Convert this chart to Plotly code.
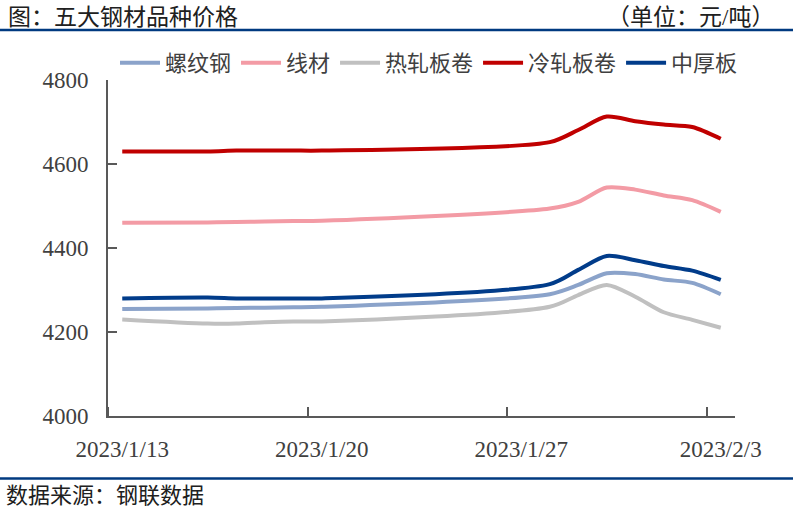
import plotly.graph_objects as go

dates = ["2023-01-13", "2023-01-16", "2023-01-17", "2023-01-18", "2023-01-19", "2023-01-20",
         "2023-01-28", "2023-01-29", "2023-01-30", "2023-01-31", "2023-02-01", "2023-02-02", "2023-02-03"]
rebar = [4255, 4256, 4257, 4258, 4259, 4260, 4290, 4312, 4340, 4338, 4325, 4317, 4290]        # 螺纹钢
wire = [4460, 4461, 4462, 4463, 4464, 4465, 4494, 4510, 4544, 4539, 4525, 4514, 4486]         # 线材
hot_coil = [4230, 4220, 4220, 4223, 4225, 4225, 4260, 4288, 4312, 4284, 4247, 4229, 4210]     # 热轧板卷
cold_coil = [4630, 4630, 4632, 4632, 4632, 4632, 4652, 4681, 4713, 4702, 4694, 4688, 4660]    # 冷轧板卷
plate = [4280, 4282, 4280, 4280, 4280, 4280, 4314, 4348, 4381, 4371, 4357, 4346, 4324]        # 中厚板

tick_dates = ["2023-01-13", "2023-01-20", "2023-01-27", "2023-02-03"]
tick_text = ["2023/1/13", "2023/1/20", "2023/1/27", "2023/2/3"]

series = [
    ("螺纹钢", rebar, "#8BA3CA"),
    ("线材", wire, "#F39BA5"),
    ("热轧板卷", hot_coil, "#C0C0C0"),
    ("冷轧板卷", cold_coil, "#C00000"),
    ("中厚板", plate, "#013C8A"),
]

# Excel-style date axis: each day's point sits in the middle of its day slot
x_mid = [d + " 12:00" for d in dates]
label_pos = [d + " 12:00" for d in tick_dates]

FONT = "Liberation Serif, Noto Sans CJK SC, serif"
TXT = "#404040"

fig = go.Figure()
for name, vals, col in series:
    fig.add_trace(go.Scatter(x=x_mid, y=vals, name=name, mode="lines",
                             line=dict(color=col, width=4, shape="spline", smoothing=0.8)))

W, H = 793, 510
L, R, T, B = 108, 58, 80, 93.5
pw, ph = W - L - R, H - T - B

def px(x):
    return (x - L) / pw

def py(y):
    return (H - B - y) / ph

fig.update_layout(
    width=W, height=H,
    margin=dict(l=L, r=R, t=T, b=B, pad=0),
    paper_bgcolor="white", plot_bgcolor="white",
    font=dict(family=FONT, size=21, color=TXT),
    showlegend=True,
    legend=dict(orientation="h", x=px(115), y=py(63), xanchor="left", yanchor="middle",
                font=dict(size=22, color=TXT), bgcolor="rgba(0,0,0,0)", itemwidth=40,
                tracegroupgap=0),
    xaxis=dict(type="date", range=["2023-01-13", "2023-02-04"], tickvals=label_pos, ticktext=tick_text,
               showgrid=False, zeroline=False, showline=True, linecolor="#595959", linewidth=2,
               ticks="", tickfont=dict(size=23, color=TXT), ticklabelstandoff=11,
               minor=dict(tickvals=tick_dates, ticks="inside", ticklen=9, tickwidth=2,
                          tickcolor="#595959", showgrid=False)),
    yaxis=dict(range=[4000, 4800], tickvals=[4000, 4200, 4400, 4600, 4800],
               showgrid=False, zeroline=False, showline=True, linecolor="#595959", linewidth=2,
               ticks="inside", ticklen=9, tickwidth=2, tickcolor="#595959",
               tickfont=dict(size=23, color=TXT), ticklabelstandoff=13),
    shapes=[
        dict(type="line", xref="paper", yref="paper", x0=px(0), x1=px(W), y0=py(30), y1=py(30),
             line=dict(color="#003A80", width=2.5)),
        dict(type="line", xref="paper", yref="paper", x0=px(0), x1=px(W), y0=py(479), y1=py(479),
             line=dict(color="#003A80", width=2.5)),
    ],
    annotations=[
        dict(text="图：五大钢材品种价格", xref="paper", yref="paper", x=px(6), y=py(17),
             xanchor="left", yanchor="middle", showarrow=False, font=dict(size=23, color="#202020")),
        dict(text="（单位：元/吨）", xref="paper", yref="paper", x=px(776), y=py(17),
             xanchor="right", yanchor="middle", showarrow=False, font=dict(size=23, color="#202020")),
        dict(text="数据来源：钢联数据", xref="paper", yref="paper", x=px(4), y=py(496),
             xanchor="left", yanchor="middle", showarrow=False, font=dict(size=22, color="#202020")),
    ],
)

fig.write_html("out.html", config={"displayModeBar": False},
               post_script="document.body.style.margin='0';document.body.style.overflow='hidden';")
